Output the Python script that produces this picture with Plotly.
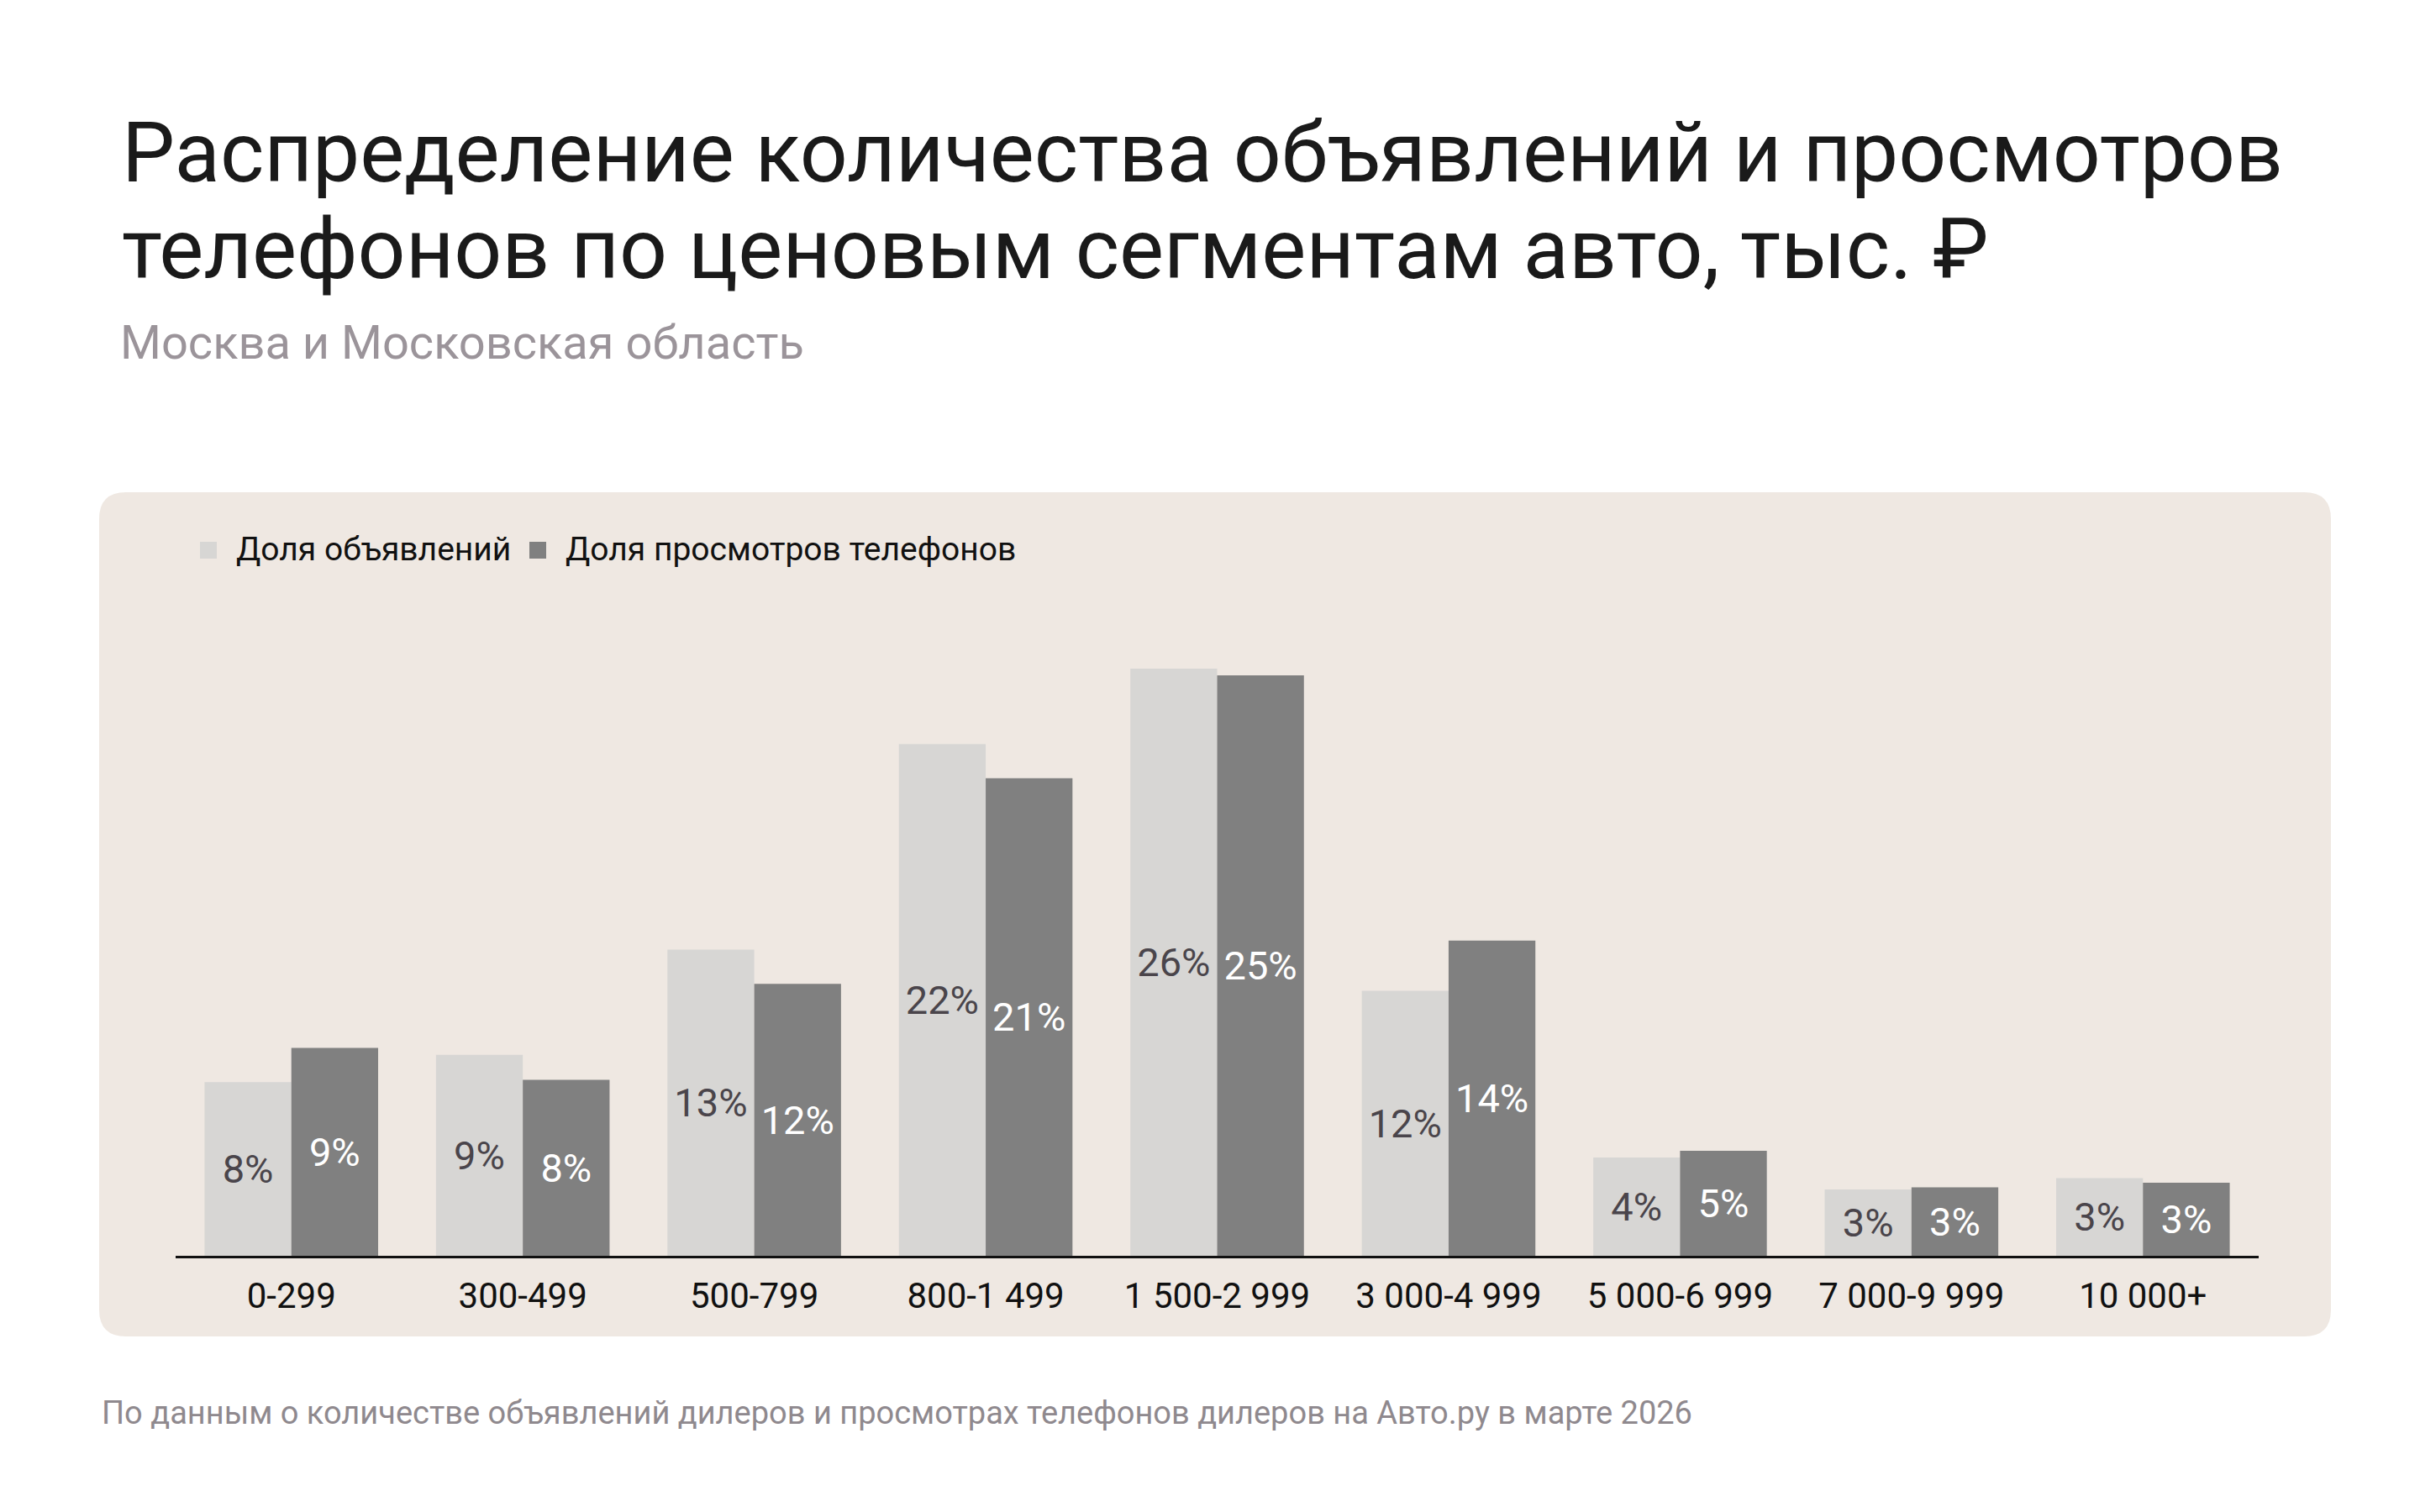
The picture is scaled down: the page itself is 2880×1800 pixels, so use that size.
import plotly.graph_objects as go

# ценовые сегменты, тыс. ₽
segments = ["0-299", "300-499", "500-799", "800-1 499", "1 500-2 999",
            "3 000-4 999", "5 000-6 999", "7 000-9 999", "10 000+"]

listings_share = [7.6, 8.8, 13.4, 22.4, 25.7, 11.6, 4.3, 2.9, 3.4]
phone_views_share = [9.1, 7.7, 11.9, 20.9, 25.4, 13.8, 4.6, 3.0, 3.2]

series_names = ["Доля объявлений", "Доля просмотров телефонов"]

TITLE_1 = "Распределение количества объявлений и просмотров"
TITLE_2 = "телефонов по ценовым сегментам авто, тыс. ₽"
SUBTITLE = "Москва и Московская область"
FOOTNOTE = "По данным о количестве объявлений дилеров и просмотрах телефонов дилеров на Авто.ру в марте 2026"

FONT = "Roboto"
LIGHT = "#d7d6d4"
DARK = "#808080"
PANEL = "#efe8e2"

# геометрия в пикселях (холст 2880x1800)
W, H = 2880, 1800
PLOT_L, PLOT_R, PLOT_T, PLOT_B = 209, 2688, 700, 1495
Y_MAX = (PLOT_B - PLOT_T) / 27.2


def fx(px):
    return (px - PLOT_L) / (PLOT_R - PLOT_L)


def fy(py):
    return (PLOT_B - py) / (PLOT_B - PLOT_T)


def rounded_rect(x0, y0, x1, y1, r):
    pts = [
        ("M", x0 + r, y0), ("L", x1 - r, y0), ("Q", x1, y0, x1, y0 + r),
        ("L", x1, y1 - r), ("Q", x1, y1, x1 - r, y1), ("L", x0 + r, y1),
        ("Q", x0, y1, x0, y1 - r), ("L", x0, y0 + r), ("Q", x0, y0, x0 + r, y0),
    ]
    out = []
    for p in pts:
        cmd, coords = p[0], p[1:]
        xy = []
        for i in range(0, len(coords), 2):
            xy.append(f"{fx(coords[i]):.5f},{fy(coords[i + 1]):.5f}")
        out.append(cmd + " ".join(xy))
    return " ".join(out) + " Z"


fig = go.Figure()
fig.add_trace(go.Bar(
    x=segments, y=listings_share, name=series_names[0],
    marker=dict(color=LIGHT, line=dict(width=0)),
    texttemplate="%{y:.0f}%", textposition="inside", insidetextanchor="middle",
    insidetextfont=dict(family=FONT, size=47, color="#4a454b"),
    constraintext="none",
))
fig.add_trace(go.Bar(
    x=segments, y=phone_views_share, name=series_names[1],
    marker=dict(color=DARK, line=dict(width=0)),
    texttemplate="%{y:.0f}%", textposition="inside", insidetextanchor="middle",
    insidetextfont=dict(family=FONT, size=47, color="#ffffff"),
    constraintext="none",
))

shapes = [
    dict(type="path", xref="paper", yref="paper", layer="below",
         path=rounded_rect(118, 586, 2774, 1591, 32),
         fillcolor=PANEL, line=dict(width=0)),
    # легенда
    dict(type="rect", xref="paper", yref="paper",
         x0=fx(238), x1=fx(258), y0=fy(645), y1=fy(665),
         fillcolor=LIGHT, line=dict(width=0)),
    dict(type="rect", xref="paper", yref="paper",
         x0=fx(630), x1=fx(650), y0=fy(645), y1=fy(665),
         fillcolor=DARK, line=dict(width=0)),
]

annotations = [
    dict(text=TITLE_1, x=fx(143), y=fy(182), font=dict(size=100, color="#1a1a1a")),
    dict(text=TITLE_2, x=fx(143), y=fy(297), font=dict(size=100, color="#1a1a1a")),
    dict(text=SUBTITLE, x=fx(141), y=fy(408), font=dict(size=56, color="#9b949a")),
    dict(text=series_names[0], x=fx(279), y=fy(654), font=dict(size=39, color="#111111")),
    dict(text=series_names[1], x=fx(671), y=fy(654), font=dict(size=39, color="#111111")),
    dict(text=FOOTNOTE, x=fx(119), y=fy(1682), font=dict(size=38, color="#8f898e")),
]
for a in annotations:
    a.update(xref="paper", yref="paper", xanchor="left", yanchor="middle",
             showarrow=False)
    a["font"]["family"] = FONT

fig.update_layout(
    width=W, height=H,
    margin=dict(l=PLOT_L, r=W - PLOT_R, t=PLOT_T, b=H - PLOT_B),
    paper_bgcolor="white",
    plot_bgcolor="rgba(0,0,0,0)",
    barmode="group", bargap=0.25, bargroupgap=0,
    showlegend=False,
    font=dict(family=FONT, color="#111111"),
    shapes=shapes,
    annotations=annotations,
    xaxis=dict(
        showline=True, linecolor="#111111", linewidth=3,
        ticks="outside", ticklen=9, tickcolor="rgba(0,0,0,0)",
        tickfont=dict(family=FONT, size=42, color="#111111"),
        showgrid=False, zeroline=False, fixedrange=True,
    ),
    yaxis=dict(
        range=[0, Y_MAX], visible=False, showgrid=False, zeroline=False,
        fixedrange=True,
    ),
)

fig.write_html("out.html", config=dict(displayModeBar=False),
               post_script="document.body.style.margin='0';")
